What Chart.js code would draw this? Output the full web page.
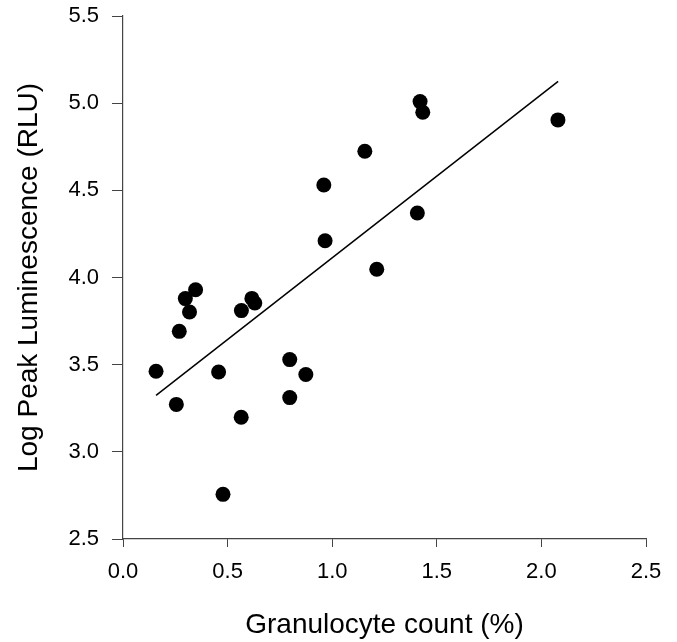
<!DOCTYPE html>
<html>
<head>
<meta charset="utf-8">
<title>Granulocyte count vs Log Peak Luminescence</title>
<script src="https://cdn.jsdelivr.net/npm/chart.js@4.4.1/dist/chart.umd.min.js"></script>
<style>
  html, body { margin: 0; padding: 0; background: #fff; }
  #wrap { width: 677px; height: 642px; position: relative; }
</style>
</head>
<body>
<div id="wrap"><canvas id="scatterChart"></canvas></div>
<script>
// === Data ===
const granulocyte = [0.158, 0.255, 0.269, 0.298, 0.318, 0.347, 0.457, 0.478, 0.565, 0.566, 0.616, 0.630,
  0.797, 0.797, 0.874, 0.960, 0.966, 1.156, 1.213, 1.407, 1.420, 1.433, 2.079];
const logPeak = [3.462, 3.272, 3.691, 3.879, 3.802, 3.930, 3.458, 2.756, 3.198, 3.810, 3.880, 3.854,
  3.529, 3.311, 3.444, 4.531, 4.211, 4.724, 4.047, 4.370, 5.009, 4.948, 4.904];

// fitted line end points
const fitX = [0.158, 2.080];
const fitY = [3.324, 5.125];

const xTicks = [0, 0.5, 1.0, 1.5, 2.0, 2.5];
const yTicks = [2.5, 3.0, 3.5, 4.0, 4.5, 5.0, 5.5];

const FONT = "'Liberation Sans', Arial, sans-serif";

document.addEventListener("DOMContentLoaded", () => {
  const ctx = document.getElementById("scatterChart").getContext("2d");

  const points = granulocyte.map((x, i) => ({ x, y: logPeak[i] }));
  const fitLine = fitX.map((x, i) => ({ x, y: fitY[i] }));

  new Chart(ctx, {
    type: "scatter",
    data: {
      datasets: [
        {
          label: "Samples",
          data: points,
          backgroundColor: "#000",
          borderWidth: 0,
          pointRadius: 7.5
        },
        {
          type: "line",
          label: "Fit",
          data: fitLine,
          borderColor: "#000",
          borderWidth: 1.5,
          pointRadius: 0,
          fill: false
        }
      ]
    },
    options: {
      responsive: true,
      maintainAspectRatio: false,
      animation: false,
      layout: { padding: { left: 0, right: 31, top: 16, bottom: 0 } },
      plugins: {
        legend: { display: false },
        tooltip: { enabled: false }
      },
      scales: {
        x: {
          type: "linear",
          min: 0,
          max: 2.5,
          afterBuildTicks: (s) => { s.ticks = xTicks.map(v => ({ value: v })); },
          afterFit: (s) => { s.height = 103; },
          grid: { drawOnChartArea: false, drawTicks: true, tickLength: 8, color: "#444" },
          border: { display: true, color: "#444", width: 1.2 },
          ticks: {
            color: "#000",
            padding: 12,
            font: { family: FONT, size: 22 },
            callback: (v) => Number(v).toFixed(1)
          },
          title: {
            display: true,
            text: "Granulocyte count (%)",
            color: "#000",
            font: { family: FONT, size: 28 },
            padding: { top: 3, bottom: 0 }
          }
        },
        y: {
          type: "linear",
          min: 2.5,
          max: 5.5,
          afterBuildTicks: (s) => { s.ticks = yTicks.map(v => ({ value: v })); },
          // fixed width, and let the top tick label hang into the layout padding
          afterFit: (s) => { s.width = 123; s.paddingTop = 0; },
          grid: { drawOnChartArea: false, drawTicks: true, tickLength: 11, color: "#444" },
          border: { display: true, color: "#444", width: 1.2 },
          ticks: {
            color: "#000",
            padding: 13,
            font: { family: FONT, size: 22 },
            callback: (v) => Number(v).toFixed(1)
          },
          title: {
            display: true,
            text: "Log Peak Luminescence (RLU)",
            color: "#000",
            font: { family: FONT, size: 28 },
            padding: { top: 12, bottom: 0 }
          }
        }
      }
    }
  });
});
</script>
</body>
</html>
